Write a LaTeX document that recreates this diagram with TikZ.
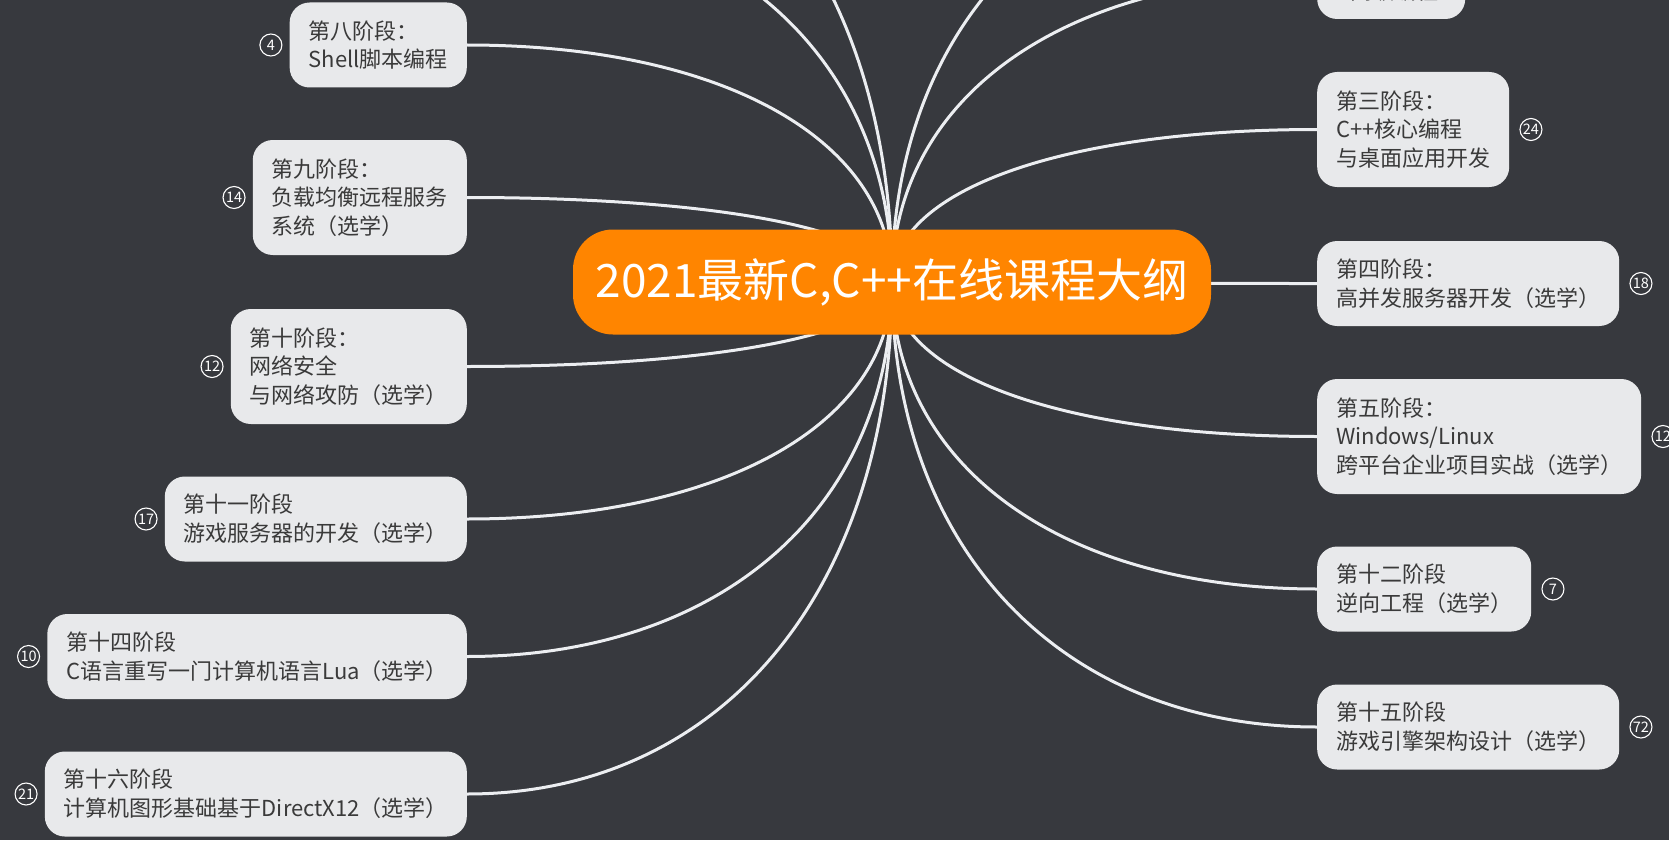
\documentclass[tikz,border=0pt]{standalone}
\usepackage{fontspec}
\setmainfont{Noto Sans CJK SC}
\usetikzlibrary{positioning,calc}
\definecolor{boardgray}{RGB}{55,57,62}
\definecolor{cardgray}{RGB}{232,233,235}
\definecolor{inkgray}{RGB}{58,58,58}
\definecolor{rootorange}{RGB}{255,133,0}
\definecolor{wirewhite}{RGB}{236,238,241}
\pgfdeclarelayer{board}
\pgfdeclarelayer{wires}
\pgfsetlayers{board,wires,main}

\begin{document}
\begin{tikzpicture}[x=1pt, y=-1pt]
	\tikzstyle{root}   = [rectangle, rounded corners=40pt, fill=rootorange, text=white, minimum width=638pt, minimum height=105pt, font=\fontsize{46}{50}\selectfont]
	\tikzstyle{stage}  = [rectangle, rounded corners=20pt, fill=cardgray, text=inkgray, align=left, inner xsep=19pt, inner ysep=0pt, minimum height=85pt, font=\fontsize{22}{28.7}\selectfont]
	\tikzstyle{stageB} = [stage, minimum height=115pt]
	\tikzstyle{badge}  = [circle, draw=white, line width=1.1pt, text=white, minimum size=22pt, inner sep=0pt, font=\fontsize{14.5}{14.5}\selectfont]
	\tikzstyle{branch} = [draw=wirewhite, line width=3pt]

	\useasboundingbox (0,0) rectangle (1669,840);
	\begin{pgfonlayer}{board}
		\fill[boardgray] (0,0) rectangle (1669,840);
	\end{pgfonlayer}

	\node[root] (root) at (892,282) {2021最新C,C++在线课程大纲};

	% left side
	\node[stage, anchor=east]  (n8)  at (467,45)    {第八阶段：\\Shell脚本编程};
	\node[stageB, anchor=east] (n9)  at (467,197.5) {第九阶段：\\负载均衡远程服务\\系统（选学）};
	\node[stageB, anchor=east] (n10) at (467,366.5) {第十阶段：\\网络安全\\与网络攻防（选学）};
	\node[stage, anchor=east]  (n11) at (467,519)   {第十一阶段\\游戏服务器的开发（选学）};
	\node[stage, anchor=east]  (n14) at (467,656.5) {第十四阶段\\C语言重写一门计算机语言Lua（选学）};
	\node[stage, anchor=east]  (n16) at (467,794)   {第十六阶段\\计算机图形基础基于DirectX12（选学）};

	% right side
	\node[stage, anchor=west]  (n2)  at (1317,-23.5) {第二阶段：\\C高级编程};
	\node[stageB, anchor=west] (n3)  at (1317,129.5) {第三阶段：\\C++核心编程\\与桌面应用开发};
	\node[stage, anchor=west]  (n4)  at (1317,283.5) {第四阶段：\\高并发服务器开发（选学）};
	\node[stageB, anchor=west] (n5)  at (1317,436.5) {第五阶段：\\Windows/Linux\\跨平台企业项目实战（选学）};
	\node[stage, anchor=west]  (n12) at (1317,589)   {第十二阶段\\逆向工程（选学）};
	\node[stage, anchor=west]  (n15) at (1317,727)   {第十五阶段\\游戏引擎架构设计（选学）};

	% branches running off the top
	\coordinate (s1) at (1317,-150);
	\coordinate (s6) at (467,-235);
	\coordinate (s7) at (467,-95);

	\foreach \n/\num in {n8/4, n9/14, n10/12, n11/17, n14/10, n16/21}
		\node[badge, left=7pt of \n] (b\n) {\num};
	\foreach \n/\num in {n3/24, n4/18, n5/12, n12/7, n15/72}
		\node[badge, right=10pt of \n] (b\n) {\num};

	\begin{pgfonlayer}{wires}
		\foreach \n/\side in {n2/west, n3/west, n4/west, n5/west, n12/west, n15/west, n8/east, n9/east, n10/east, n11/east, n14/east, n16/east, s1/center, s6/center, s7/center}
			\draw[branch] (root.center) .. controls ($(root.center)!0.6!(root.center |- \n.\side)$) and ($(\n.\side)!0.6!(\n.\side -| root.center)$) .. (\n.\side);
	\end{pgfonlayer}
\end{tikzpicture}
\end{document}
